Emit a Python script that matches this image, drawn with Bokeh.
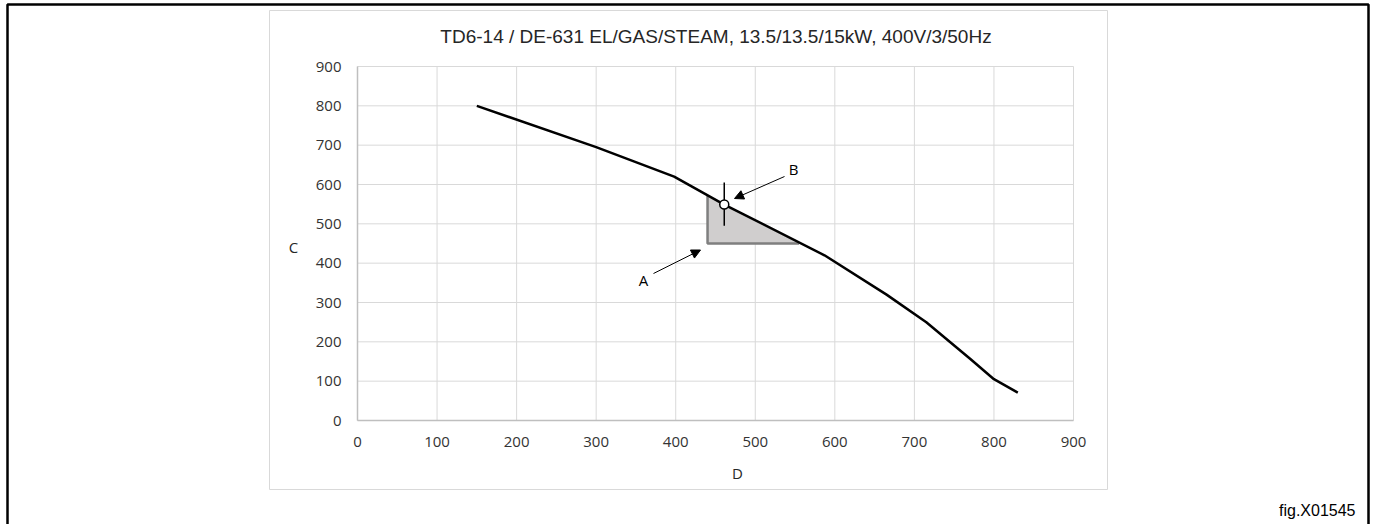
from bokeh.plotting import figure
from bokeh.models import Range1d, FixedTicker, Label, Arrow, NormalHead
from bokeh.embed import file_html
from bokeh.resources import INLINE

# ---------------- data ----------------
title_text = "TD6-14 / DE-631 EL/GAS/STEAM, 13.5/13.5/15kW, 400V/3/50Hz"
x_label = "D"
y_label = "C"
fig_tag = "fig.X01545"
x_ticks = [0, 100, 200, 300, 400, 500, 600, 700, 800, 900]
y_ticks = [0, 100, 200, 300, 400, 500, 600, 700, 800, 900]
curve_x = [150, 300, 398, 461, 587, 665, 715, 770, 800, 830]
curve_y = [800, 695, 620, 549, 420, 320, 250, 157, 105, 71]
b_x = [461]
b_y = [549]
b_err_lo = [495]
b_err_hi = [605]
zone_x = [440, 440, 461, 555]
zone_y = [450, 572, 549, 450]
zone_edge_x = [440, 440, 555]
zone_edge_y = [572, 450, 450]

# ---------------- layout (pixel geometry of the page) ----------------
W, H = 1376, 524          # canvas size
IMG_L, IMG_R = 357, 1073  # data area left/right in page pixels
IMG_T, IMG_B = 66, 420    # data area top/bottom in page pixels
KX = (IMG_R - IMG_L) / 900.0
KY = (IMG_B - IMG_T) / 900.0


def dx(px):
    return (px - IMG_L) / KX


def dy(py):
    return (IMG_B - py) / KY


p = figure(width=W, height=H, output_backend="svg", toolbar_location=None,
           x_range=Range1d(dx(0), dx(W)), y_range=Range1d(dy(H), dy(0)),
           x_axis_location="above", y_axis_location="left",
           min_border_left=0, min_border_right=0,
           min_border_top=0, min_border_bottom=0)
p.title.visible = False
p.outline_line_color = None
p.background_fill_color = "white"
p.border_fill_color = "white"
p.grid.visible = False

for ax, ticks in ((p.xaxis, x_ticks), (p.yaxis, y_ticks)):
    ax.ticker = FixedTicker(ticks=ticks)
    ax.bounds = (ticks[0], ticks[-1])
    ax.major_tick_line_color = None
    ax.major_tick_out = 0
    ax.major_tick_in = 0
    ax.minor_tick_line_color = None
    ax.axis_line_color = "#bfbfbf"
    ax.axis_line_width = 1.5
    ax.major_label_text_font = "Open Sans"
    ax.major_label_text_font_size = "15px"
    ax.major_label_text_color = "#333333"
# x axis sits on y=0, labels pushed below its line
p.xaxis.fixed_location = 0
p.xaxis.major_label_standoff = -26
# y axis labels: right edges 16px left of x=0 line
p.yaxis.fixed_location = dx(IMG_L - 46)
p.yaxis.major_label_standoff = -30
p.yaxis.axis_line_color = None

# outer frame (open at the bottom edge) and chart area box
outer_x = [dx(7), dx(7), dx(1368), dx(1368)]
outer_y = [dy(H + 2), dy(4), dy(4), dy(H + 2)]
p.line(outer_x, outer_y, line_color="black", line_width=2.5)
box_x = [dx(269), dx(1107), dx(1107), dx(269), dx(269)]
box_y = [dy(10), dy(10), dy(489), dy(489), dy(10)]
p.line(box_x, box_y, line_color="#d9d9d9", line_width=1)

# gridlines
p.segment(x0=x_ticks, y0=y_ticks[0], x1=x_ticks, y1=y_ticks[-1],
          line_color="#d9d9d9", line_width=1)
p.segment(x0=x_ticks[0], y0=y_ticks, x1=x_ticks[-1], y1=y_ticks,
          line_color="#d9d9d9", line_width=1)
# y axis line
p.segment(x0=x_ticks[0], y0=y_ticks[0], x1=x_ticks[0], y1=y_ticks[-1],
          line_color="#bfbfbf", line_width=1.5)

# shaded zone
p.patch(zone_x, zone_y, fill_color="#d0cece", line_color=None)
p.line(zone_edge_x, zone_edge_y, line_color="#7f7f7f", line_width=2.5)

# curve
p.line(curve_x, curve_y, line_color="black", line_width=2.5)

# marker B
p.segment(x0=b_x, y0=b_err_lo, x1=b_x, y1=b_err_hi, line_color="black", line_width=1.5)
p.scatter(b_x, b_y, size=9, marker="circle", fill_color="white",
          line_color="black", line_width=1.5)

# title and labels
p.add_layout(Label(x=dx(715.5), y=dy(36), text=title_text, text_font="Liberation Sans",
                   text_font_size="19px", text_color="#262626", text_align="center",
                   text_baseline="middle"))
p.add_layout(Label(x=dx(293), y=dy(246), text=y_label, text_font="Open Sans",
                   text_font_size="15px", text_color="#262626", text_align="center",
                   text_baseline="middle"))
p.add_layout(Label(x=dx(737), y=dy(472), text=x_label, text_font="Open Sans",
                   text_font_size="15px", text_color="#262626", text_align="center",
                   text_baseline="middle"))
p.add_layout(Label(x=dx(1355), y=dy(510), text=fig_tag, text_font="Liberation Sans",
                   text_font_size="16px", text_color="black", text_align="right",
                   text_baseline="middle"))

# callouts
p.add_layout(Label(x=dx(643), y=dy(279), text="A", text_font="Open Sans",
                   text_font_size="15px", text_color="black", text_align="center",
                   text_baseline="middle"))
p.add_layout(Arrow(end=NormalHead(size=9, fill_color="black", line_color="black", line_width=1),
                   x_start=dx(653), y_start=dy(273), x_end=dx(700), y_end=dy(249.5),
                   line_color="black", line_width=1))
p.add_layout(Label(x=dx(793), y=dy(168), text="B", text_font="Open Sans",
                   text_font_size="15px", text_color="black", text_align="center",
                   text_baseline="middle"))
p.add_layout(Arrow(end=NormalHead(size=9, fill_color="black", line_color="black", line_width=1),
                   x_start=dx(784), y_start=dy(176), x_end=dx(734), y_end=dy(198),
                   line_color="black", line_width=1))

open("out.html", "w").write(file_html(p, INLINE))
